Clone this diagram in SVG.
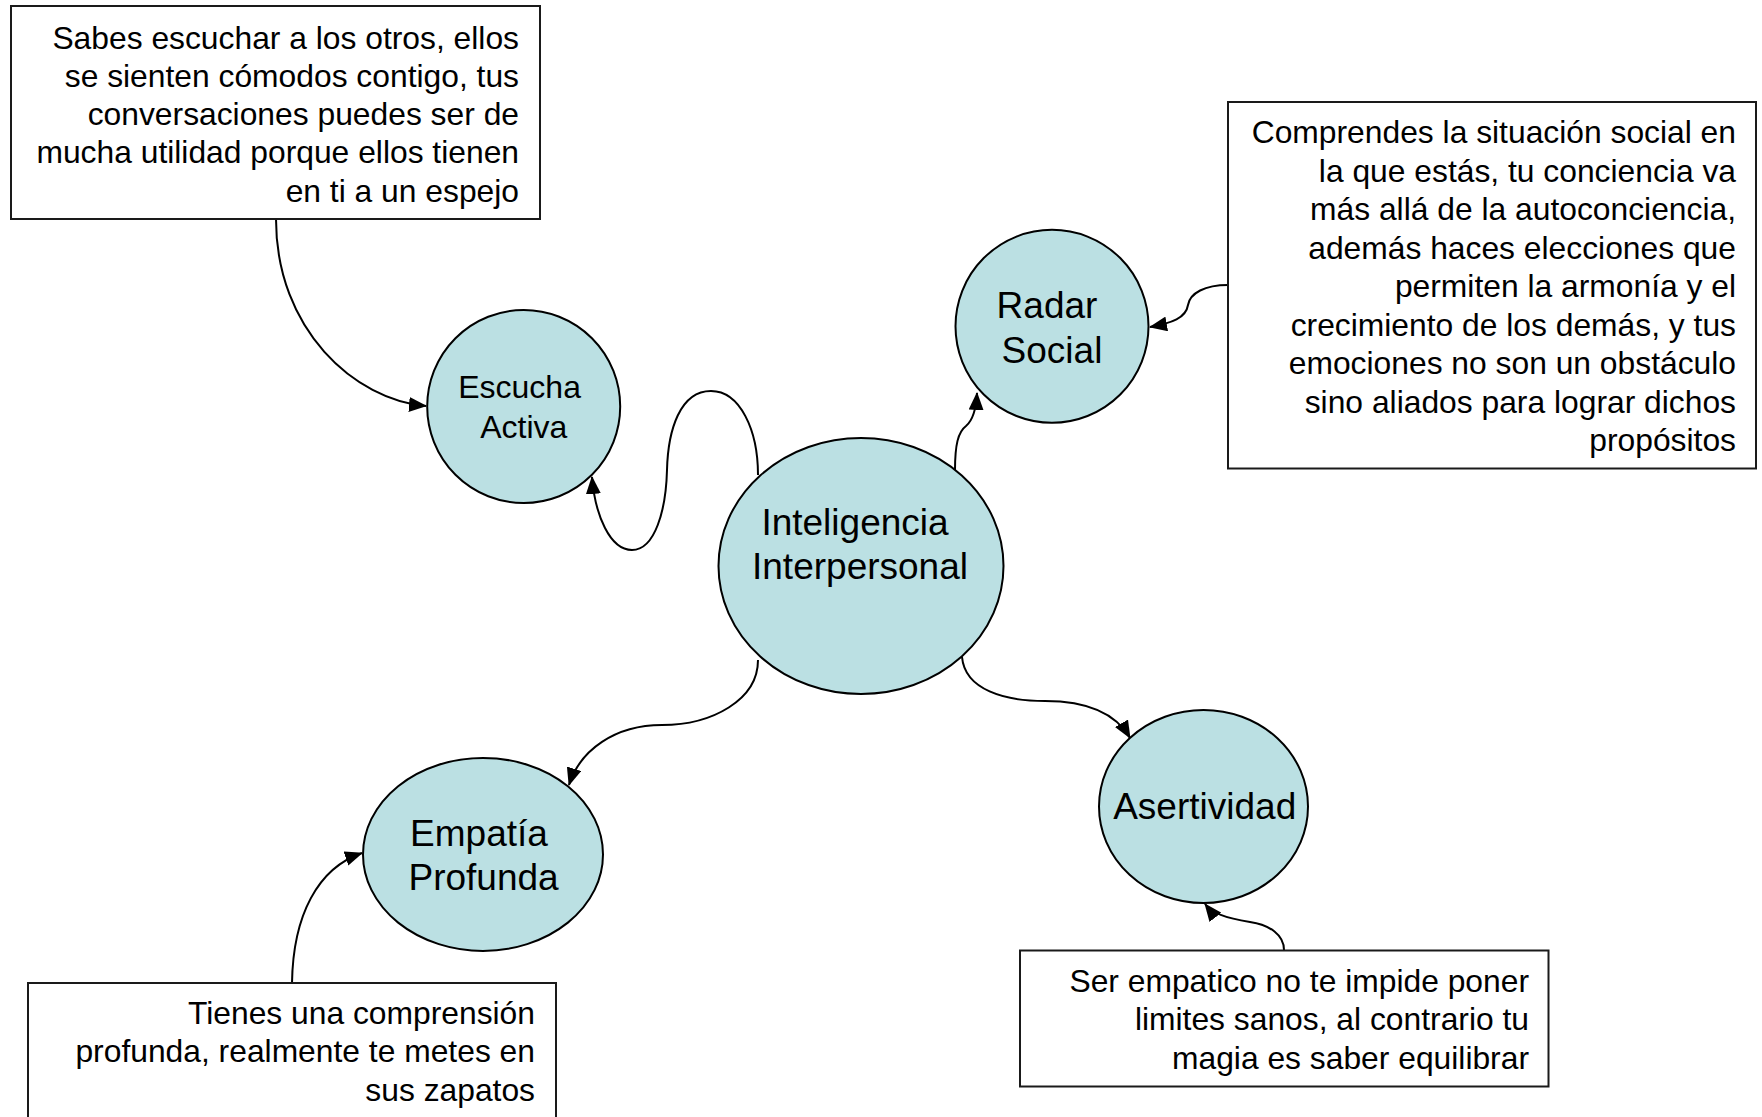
<svg xmlns="http://www.w3.org/2000/svg" width="1762" height="1117" viewBox="0 0 1762 1117">
<style>
.box{fill:#ffffff;stroke:#1a1a1a;stroke-width:2}
.node{fill:#BBE0E3;stroke:#000000;stroke-width:2}
.t{font-family:"Liberation Sans",Arial,sans-serif;fill:#000000}
.bt{font-size:31.8px;text-anchor:end}
.nt{font-size:37px;text-anchor:middle}
.st{font-size:32px;text-anchor:middle}
.conn path{fill:none;stroke:#000000;stroke-width:2;marker-end:url(#arr)}
</style>
<defs>
<marker id="arr" markerUnits="userSpaceOnUse" markerWidth="18" markerHeight="15" viewBox="0 0 18 15" refX="17" refY="7.5" orient="auto">
<path d="M0,0 L18,7.5 L0,15 Z" fill="#000000"/>
</marker>
</defs>
<rect width="1762" height="1117" fill="#ffffff"/>
<g id="connectors" class="conn">
<path d="M276,219 C276,330 355,400 426,406"/>
<path d="M758,475 C758,430 740,391 711,391 C680,391 668,430 667,470 C666,510 655,550 632,550 C610,550 595,515 592,477"/>
<path d="M955,470 C955,445 958,432 966,426 C972,421 976,412 977,393"/>
<path d="M1228,285 C1205,285 1190,293 1188,305 C1186,318 1172,323 1150,327"/>
<path d="M758,660 C758,700 712,725 662,725 C615,725 580,750 569,785"/>
<path d="M962,657 C965,690 1005,701 1045,701 C1085,701 1115,712 1130,738"/>
<path d="M292,983 C293,915 318,868 362,853"/>
<path d="M1284,950 C1284,935 1270,925 1250,922 C1225,918 1212,913 1205,904"/>
</g>
<g id="box-escucha">
<rect class="box" x="11" y="6" width="529" height="213"/>
<text class="t bt"><tspan x="519" y="48.5">Sabes escuchar a los otros, ellos</tspan><tspan x="519" y="86.8">se sienten cómodos contigo, tus</tspan><tspan x="519" y="125.1">conversaciones puedes ser de</tspan><tspan x="519" y="163.4">mucha utilidad porque ellos tienen</tspan><tspan x="519" y="201.7">en ti a un espejo</tspan></text>
</g>
<g id="box-radar">
<rect class="box" x="1228" y="102" width="528" height="366.5"/>
<text class="t bt"><tspan x="1736" y="143">Comprendes la situación social en</tspan><tspan x="1736" y="181.5">la que estás, tu conciencia va</tspan><tspan x="1736" y="220">más allá de la autoconciencia,</tspan><tspan x="1736" y="258.5">además haces elecciones que</tspan><tspan x="1736" y="297">permiten la armonía y el</tspan><tspan x="1736" y="335.5">crecimiento de los demás, y tus</tspan><tspan x="1736" y="374">emociones no son un obstáculo</tspan><tspan x="1736" y="412.5">sino aliados para lograr dichos</tspan><tspan x="1736" y="451">propósitos</tspan></text>
</g>
<g id="box-empatia">
<rect class="box" x="28" y="983" width="528" height="160"/>
<text class="t bt"><tspan x="535" y="1024">Tienes una comprensión</tspan><tspan x="535" y="1062.4">profunda, realmente te metes en</tspan><tspan x="535" y="1100.8">sus zapatos</tspan></text>
</g>
<g id="box-asertividad">
<rect class="box" x="1020" y="950.5" width="528.5" height="136"/>
<text class="t bt"><tspan x="1529" y="992">Ser empatico no te impide poner</tspan><tspan x="1529" y="1030.3">limites sanos, al contrario tu</tspan><tspan x="1529" y="1068.6">magia es saber equilibrar</tspan></text>
</g>
<g id="node-escucha">
<circle class="node" cx="523.7" cy="406.5" r="96.5"/>
<text class="t st"><tspan x="519.6" y="398">Escucha</tspan><tspan x="523.8" y="437.5">Activa</tspan></text>
</g>
<g id="node-radar">
<circle class="node" cx="1052" cy="326.3" r="96.5"/>
<text class="t nt"><tspan x="1047" y="318">Radar</tspan><tspan x="1052" y="362.5">Social</tspan></text>
</g>
<g id="node-central">
<ellipse class="node" cx="861" cy="566" rx="142.5" ry="128"/>
<text class="t nt"><tspan x="855" y="534.6">Inteligencia</tspan><tspan x="860" y="578.5">Interpersonal</tspan></text>
</g>
<g id="node-empatia">
<ellipse class="node" cx="483" cy="854.4" rx="120" ry="96.5"/>
<text class="t nt"><tspan x="479" y="846">Empatía</tspan><tspan x="483.6" y="890.4">Profunda</tspan></text>
</g>
<g id="node-asertividad">
<ellipse class="node" cx="1203.5" cy="806.5" rx="104.5" ry="96.5"/>
<text class="t nt" x="1204.7" y="819.3">Asertividad</text>
</g>
</svg>
